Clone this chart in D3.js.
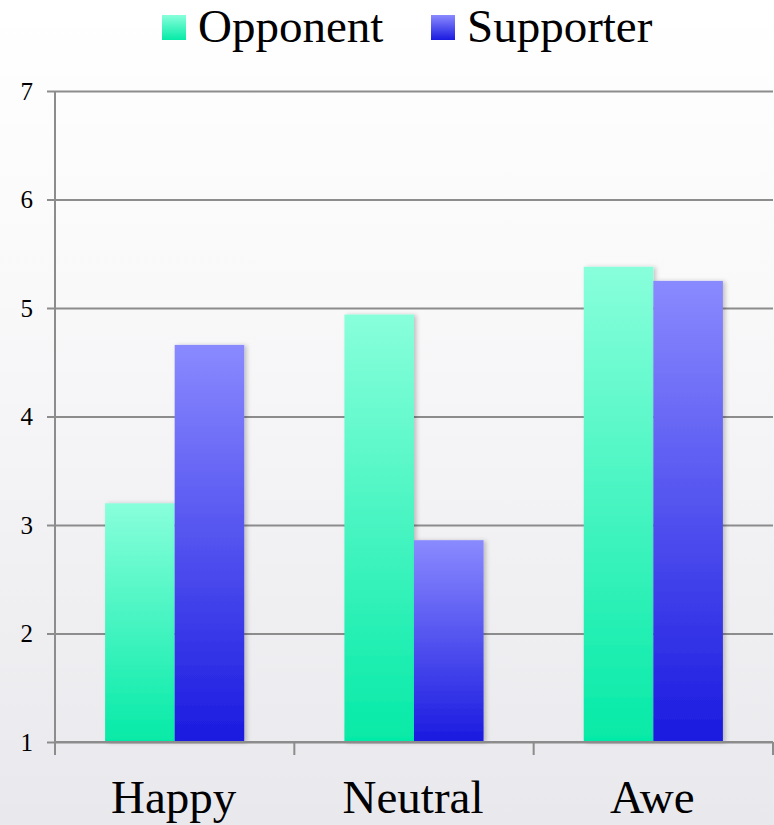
<!DOCTYPE html>
<html>
<head>
<meta charset="utf-8">
<script src="https://cdn.jsdelivr.net/npm/d3@7"></script>
<style>
  html, body { margin: 0; padding: 0; background: #fff; }
  svg { display: block; }
</style>
</head>
<body>
<svg id="chart" width="774" height="825"></svg>
<script>
// Mean ratings per emotion condition, split by group
const categories = ["Happy", "Neutral", "Awe"];
const seriesNames = ["Opponent", "Supporter"];
const opponent = [3.20, 4.94, 5.38];
const supporter = [4.66, 2.86, 5.25];
const yTicks = [1, 2, 3, 4, 5, 6, 7];

const W = 774, H = 825;
const margin = { top: 91, right: 1, bottom: 83, left: 55 };

const svg = d3.select("#chart");
const defs = svg.append("defs");

// Page backdrop: white fading to a pale grey toward the bottom
const bg = defs.append("linearGradient").attr("id", "bg")
  .attr("x1", 0).attr("y1", 0).attr("x2", 0).attr("y2", 1);
bg.append("stop").attr("offset", "0%").attr("stop-color", "#ffffff");
bg.append("stop").attr("offset", "35%").attr("stop-color", "#f9f9fa");
bg.append("stop").attr("offset", "70%").attr("stop-color", "#f0f0f3");
bg.append("stop").attr("offset", "100%").attr("stop-color", "#e9e9ed");

const palettes = {
  Opponent: ["#88ffdb", "#05eaa7"],
  Supporter: ["#8a8aff", "#1a1ae0"]
};
seriesNames.forEach(name => {
  const g = defs.append("linearGradient").attr("id", "grad-" + name)
    .attr("x1", 0).attr("y1", 0).attr("x2", 0).attr("y2", 1);
  g.append("stop").attr("offset", "0%").attr("stop-color", palettes[name][0]);
  g.append("stop").attr("offset", "100%").attr("stop-color", palettes[name][1]);
});

const shadow = defs.append("filter").attr("id", "shadow")
  .attr("x", "-20%").attr("y", "-5%").attr("width", "140%").attr("height", "110%");
shadow.append("feDropShadow").attr("dx", 2.5).attr("dy", 0.5)
  .attr("stdDeviation", 2).attr("flood-color", "#000").attr("flood-opacity", 0.22);

svg.append("rect").attr("width", W).attr("height", H).attr("fill", "url(#bg)");

const x0 = d3.scaleBand().domain(categories)
  .range([margin.left, W - margin.right]).paddingInner(0).paddingOuter(0);
const x1 = d3.scaleBand().domain(seriesNames)
  .range([0, x0.bandwidth()]).paddingInner(0).paddingOuter(0.72);
const y = d3.scaleLinear().domain([1, 7]).range([H - margin.bottom, margin.top]);

const gridColor = "#8c8c8c";
const serif = "'Liberation Serif', 'Times New Roman', Times, serif";

// Horizontal gridlines with left tick stubs
svg.append("g")
  .attr("transform", `translate(${margin.left},0)`)
  .call(d3.axisLeft(y).tickValues(yTicks).tickSize(-(W - margin.right - margin.left)).tickFormat(""))
  .call(g => g.select(".domain").remove())
  .call(g => g.selectAll(".tick line").attr("stroke", gridColor).attr("stroke-width", 2));

svg.append("g")
  .attr("transform", `translate(${margin.left},0)`)
  .call(d3.axisLeft(y).tickValues(yTicks).tickSize(8).tickPadding(14).tickFormat(d3.format("d")))
  .attr("font-family", serif).attr("font-size", 25)
  .call(g => g.select(".domain").remove())
  .call(g => g.selectAll(".tick line").attr("stroke", gridColor).attr("stroke-width", 2))
  .call(g => g.selectAll(".tick text")
    .attr("fill", "#000")
    .style("font-family", serif).style("font-size", "25px"));

// Bars
const rows = categories.map((c, i) => ({ category: c, Opponent: opponent[i], Supporter: supporter[i] }));
svg.append("g").selectAll("g").data(rows).join("g")
  .attr("transform", d => `translate(${x0(d.category)},0)`)
  .selectAll("rect")
  .data(d => seriesNames.map(s => ({ series: s, value: d[s] })))
  .join("rect")
  .attr("x", d => x1(d.series))
  .attr("width", x1.bandwidth())
  .attr("y", d => y(d.value))
  .attr("height", d => y(1) - y(d.value))
  .attr("fill", d => `url(#grad-${d.series})`)
  .attr("filter", "url(#shadow)");

// Y axis line
svg.append("line")
  .attr("x1", margin.left).attr("x2", margin.left)
  .attr("y1", y(7)).attr("y2", y(1) + 13)
  .attr("stroke", gridColor).attr("stroke-width", 2);

// Category axis: baseline, separator ticks and labels
const xAxisY = y(1);
svg.append("line")
  .attr("x1", margin.left).attr("x2", W - margin.right)
  .attr("y1", xAxisY).attr("y2", xAxisY)
  .attr("stroke", gridColor).attr("stroke-width", 2);
const seps = categories.map(c => x0(c)).concat([x0(categories[categories.length - 1]) + x0.bandwidth()]);
svg.append("g").selectAll("line").data(seps).join("line")
  .attr("x1", d => d).attr("x2", d => d)
  .attr("y1", xAxisY).attr("y2", xAxisY + 13)
  .attr("stroke", gridColor).attr("stroke-width", 2);
svg.append("g").selectAll("text").data(categories).join("text")
  .attr("x", d => x0(d) + x0.bandwidth() / 2 - 1)
  .attr("y", 813)
  .attr("text-anchor", "middle")
  .attr("font-family", serif).attr("font-size", 47)
  .attr("fill", "#000")
  .text(d => d);

// Legend
const legendItems = [
  { name: "Opponent", x: 162 },
  { name: "Supporter", x: 431 }
];
const lg = svg.append("g").selectAll("g").data(legendItems).join("g")
  .attr("transform", d => `translate(${d.x},0)`);
lg.append("rect")
  .attr("x", 0).attr("y", 15).attr("width", 24).attr("height", 25)
  .attr("fill", d => `url(#grad-${d.name})`);
lg.append("text")
  .attr("x", 36).attr("y", 42)
  .attr("font-family", serif).attr("font-size", 47)
  .attr("fill", "#000")
  .text(d => d.name);
</script>
</body>
</html>
